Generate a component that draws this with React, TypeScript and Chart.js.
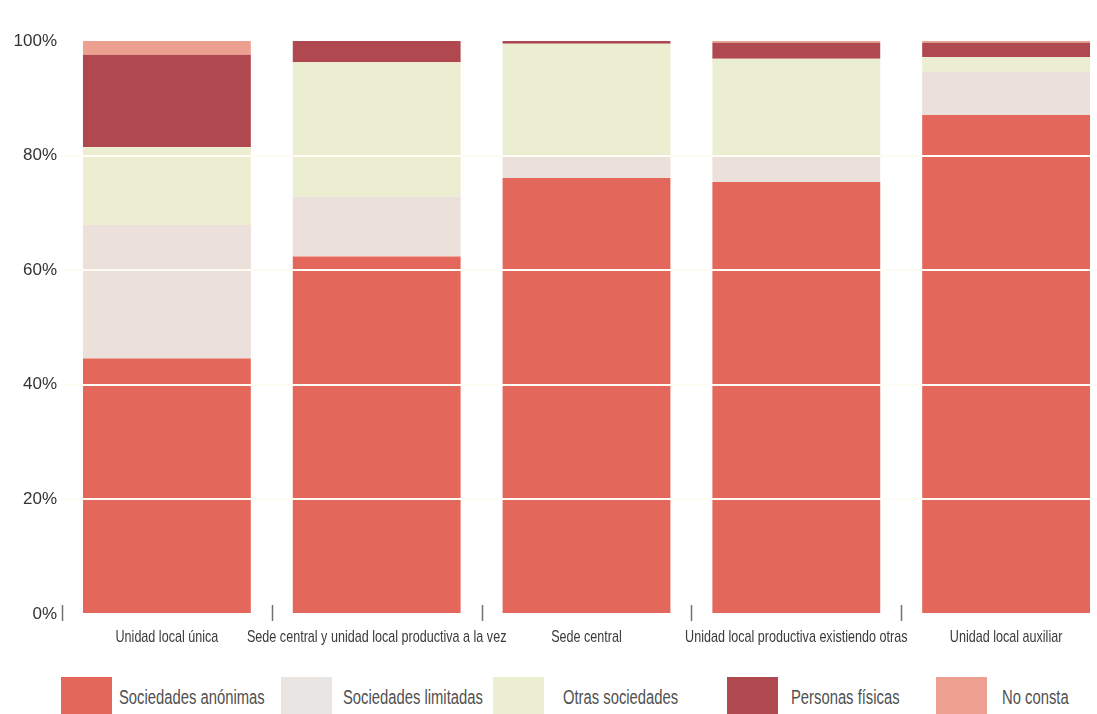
import React, { useEffect, useRef } from "react";
import { Chart, registerables } from "chart.js";

Chart.register(...registerables);

const CATEGORIES = [
  "Unidad local única",
  "Sede central y unidad local productiva a la vez",
  "Sede central",
  "Unidad local productiva existiendo otras",
  "Unidad local auxiliar",
];

const SOCIEDADES_ANONIMAS = [44.6, 62.4, 76.1, 75.4, 87.1];
const SOCIEDADES_LIMITADAS = [23.3, 10.4, 3.8, 4.4, 7.5];
const OTRAS_SOCIEDADES = [13.6, 23.5, 19.6, 17.1, 2.6];
const PERSONAS_FISICAS = [16.1, 3.7, 0.5, 2.8, 2.5];
const NO_CONSTA = [2.4, 0.0, 0.0, 0.3, 0.3];

const SERIES_NAMES = [
  "Sociedades anónimas",
  "Sociedades limitadas",
  "Otras sociedades",
  "Personas físicas",
  "No consta",
];

const Y_TICKS = [0, 20, 40, 60, 80, 100];

const COLORS = ["#e4675b", "#ece0da", "#eceed2", "#b0484f", "#eda08f"];
const LEGEND_COLORS = ["#e4675b", "#e8e5e2", "#eceed2", "#b0484f", "#eda08f"];
const LEGEND_BOX_LEFT = [61, 281, 493, 727, 936];
const LEGEND_TEXT_LEFT = [119, 343, 563, 791, 1002];

const SANS = "'Liberation Sans', Arial, sans-serif";
const AXIS_CONDENSE = 0.74;
const LEGEND_CONDENSE = 0.74;

const condensedAxisPlugin = {
  id: "condensedAxis",
  afterDraw(chart: any) {
    const xs = chart.scales.x;
    const area = chart.chartArea;
    const ctx = chart.ctx;
    const n = CATEGORIES.length;
    const step = (xs.right - xs.left) / n;
    ctx.save();
    ctx.strokeStyle = "#707070";
    ctx.lineWidth = 1.5;
    for (let i = 0; i < n; i++) {
      const bx = Math.round(xs.left + step * i) + 0.5;
      ctx.beginPath();
      ctx.moveTo(bx, area.bottom - 9);
      ctx.lineTo(bx, area.bottom + 7);
      ctx.stroke();
    }
    ctx.font = "17px " + SANS;
    ctx.fillStyle = "#3a3a3a";
    ctx.textAlign = "center";
    ctx.textBaseline = "middle";
    CATEGORIES.forEach((c, i) => {
      const x = xs.getPixelForTick(i);
      ctx.save();
      ctx.translate(x, area.bottom + 23);
      ctx.scale(AXIS_CONDENSE, 1);
      ctx.fillText(c, 0, 0);
      ctx.restore();
    });
    ctx.restore();
  },
};

export default function App() {
  const ref = useRef<HTMLCanvasElement | null>(null);

  useEffect(() => {
    if (!ref.current) return;
    const series = [
      SOCIEDADES_ANONIMAS,
      SOCIEDADES_LIMITADAS,
      OTRAS_SOCIEDADES,
      PERSONAS_FISICAS,
      NO_CONSTA,
    ];
    const chart = new Chart(ref.current, {
      type: "bar",
      data: {
        labels: CATEGORIES,
        datasets: series.map((d, i) => ({
          label: SERIES_NAMES[i],
          data: d,
          backgroundColor: COLORS[i],
          borderWidth: 0,
          barPercentage: 0.8,
          categoryPercentage: 1.0,
        })),
      },
      plugins: [condensedAxisPlugin],
      options: {
        animation: false,
        responsive: false,
        layout: { padding: { top: 41, left: 0, right: 0, bottom: 0 } },
        plugins: { legend: { display: false }, tooltip: { enabled: false } },
        scales: {
          x: {
            stacked: true,
            offset: true,
            border: { display: false },
            grid: { display: false },
            ticks: { display: false },
            afterFit: (s: any) => {
              s.height = 36;
            },
          },
          y: {
            stacked: true,
            min: 0,
            max: 100,
            border: { display: false },
            afterBuildTicks: (s: any) => {
              s.ticks = Y_TICKS.map((v) => ({ value: v }));
            },
            grid: {
              z: 1,
              drawTicks: false,
              lineWidth: 2,
              color: (ctx: any) =>
                ctx.tick && (ctx.tick.value === 0 || ctx.tick.value === 100)
                  ? "rgba(0,0,0,0)"
                  : "#fffcf4",
            },
            ticks: {
              padding: 5,
              color: "#333333",
              font: { family: SANS, size: 17 },
              callback: (v: any) => v + "%",
            },
            afterFit: (s: any) => {
              s.width = 62;
            },
          },
        },
      },
    });
    return () => chart.destroy();
  }, []);

  return (
    <div
      style={{
        position: "fixed",
        left: 0,
        top: 0,
        width: "100vw",
        height: "100vh",
        overflow: "hidden",
        background: "#ffffff",
      }}
    >
      <canvas
        ref={ref}
        width={1111}
        height={650}
        style={{ position: "absolute", left: 0, top: 0, width: 1111, height: 650 }}
      />
      {SERIES_NAMES.map((name, i) => (
        <React.Fragment key={name}>
          <div
            style={{
              position: "absolute",
              left: LEGEND_BOX_LEFT[i],
              top: 677,
              width: 51,
              height: 37,
              background: LEGEND_COLORS[i],
            }}
          />
          <div
            style={{
              position: "absolute",
              left: LEGEND_TEXT_LEFT[i],
              top: 684,
              fontFamily: SANS,
              fontSize: 20,
              lineHeight: "26px",
              color: "#505050",
              whiteSpace: "nowrap",
              transform: `scaleX(${LEGEND_CONDENSE})`,
              transformOrigin: "left center",
            }}
          >
            {name}
          </div>
        </React.Fragment>
      ))}
    </div>
  );
}
